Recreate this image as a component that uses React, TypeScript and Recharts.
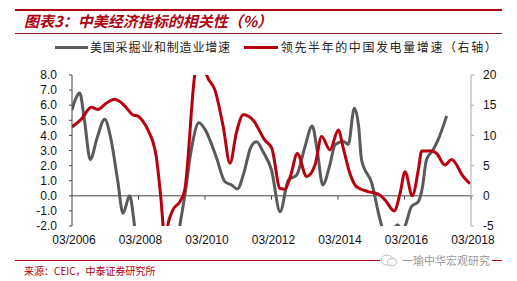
import React from 'react';
import { LineChart, Line, XAxis, YAxis, ReferenceLine } from 'recharts';

// months since 03/2006
const grayMonths = [0, 1.5, 2.8, 4.5, 6.6, 9, 11.8, 14, 16.5, 18.4, 20.8, 22.6, 26, 30, 34, 38.9, 40.7, 43, 45.8, 48, 52, 55.2, 57.6, 59.7, 62, 64.5, 66.6, 69, 72, 75.1, 78.1, 81.1, 84, 86.7, 88.5, 90.5, 93, 95, 98, 99.7, 101.9, 103.5, 104.5, 108.2, 111.2, 113, 115, 117.5, 119, 120.2, 122.5, 125, 126.5, 127.9, 130.3, 132.1, 135.2];
const grayValues = [5.7, 6.5, 6.8, 5.0, 2.4, 3.8, 5.07, 3.8, 1.0, -1.16, 0.0, -2.0, -7, -11, -9, -2.0, 0.0, 3.0, 4.84, 4.4, 2.6, 0.93, 0.72, 0.45, 1.5, 3.2, 3.58, 2.9, 1.71, -1.05, 1.05, 1.38, 3.2, 4.62, 3.0, 0.72, 2.0, 3.4, 3.6, 3.4, 5.8, 4.5, 2.37, 0.83, -1.6, -2.6, -2.5, -1.92, -2.3, -2.0, -0.72, -0.39, 0.6, 2.37, 3.03, 3.7, 5.28];

const redMonths = [0, 3.4, 7, 9.4, 12, 15.4, 17, 19, 22, 23.8, 25.5, 27.4, 30.4, 32, 33.5, 35, 36.5, 38.9, 40.7, 44.3, 46.5, 48.6, 51.6, 54.6, 57, 59.4, 61.8, 65.4, 69.6, 72.1, 75.1, 76.9, 79, 81.3, 84.7, 87.7, 90.1, 93.1, 96.1, 97.9, 100.3, 102.7, 106.9, 110.5, 113, 116.3, 118.4, 120.2, 122.8, 125, 126.2, 129.8, 131.6, 134.6, 137, 141.2, 143.6];
const redValues = [11.4, 12.7, 14.65, 14.3, 15.2, 16.0, 15.7, 14.9, 13.4, 13.2, 12.4, 10.9, 6.5, 0, -7, -4, -2.24, -1.0, 1.0, 20, 24, 20, 17.5, 11.4, 5.4, 10.6, 13.4, 12.5, 9.2, 7.9, 1.2, 1.1, 3.5, 7.0, 3.2, 5.1, 9.8, 7.6, 10.9, 7.9, 3.7, 1.5, 0.7, 0.3, -0.7, -2.5, 0.4, 4.0, 0.0, 4.3, 7.4, 7.4, 7.0, 5.1, 6.0, 3.2, 2.0];

const xTicks = [0, 24, 48, 72, 96, 120, 144];
const xTickLabels = ['03/2006', '03/2008', '03/2010', '03/2012', '03/2014', '03/2016', '03/2018'];
const leftTicks = [-2, -1, 0, 1, 2, 3, 4, 5, 6, 7, 8];
const rightTicks = [-5, 0, 5, 10, 15, 20];

const seriesNames = ['美国采掘业和制造业增速', '领先半年的中国发电量增速（右轴）'];
const title = '图表3：中美经济指标的相关性（%）';
const source = '来源：CEIC，中泰证券研究所';
const watermark = '一瑜中华宏观研究';

const GRAY = '#5a5a5a';
const RED = '#b8000f';

const allMonths = Array.from(new Set([...grayMonths, ...redMonths])).sort((a, b) => a - b);
const data = allMonths.map((m) => {
  const gi = grayMonths.indexOf(m);
  const ri = redMonths.indexOf(m);
  return {
    m,
    us: gi >= 0 ? grayValues[gi] : undefined,
    cn: ri >= 0 ? redValues[ri] : undefined,
  };
});

const font = 'Arial, "Liberation Sans", sans-serif';
const cjk = '"Noto Sans CJK SC", sans-serif';

export default function App() {
  return (
    <div style={{ position: 'absolute', left: 0, top: 0, width: 517, height: 281, background: '#fff', overflow: 'hidden' }}>
      <div style={{ position: 'absolute', left: 15, top: 9, width: 487, height: 2, background: '#b00010' }} />
      <div style={{ position: 'absolute', left: 24, top: 12, fontFamily: cjk, fontSize: 15, fontStyle: 'italic', fontWeight: 'bold', color: '#b00010', lineHeight: '18px', whiteSpace: 'nowrap' }}>{title}</div>
      <div style={{ position: 'absolute', left: 15, top: 33, width: 487, height: 1, background: '#8b1a1a' }} />

      <div style={{ position: 'absolute', left: 55, top: 39, display: 'flex', alignItems: 'center', fontFamily: cjk, fontSize: 12, color: '#222', whiteSpace: 'nowrap', lineHeight: '16px' }}>
        <span style={{ display: 'inline-block', width: 33, height: 3, background: GRAY, marginRight: 2 }} />
        <span style={{ letterSpacing: 0.8 }}>{seriesNames[0]}</span>
        <span style={{ display: 'inline-block', width: 34, height: 3, background: RED, marginLeft: 13, marginRight: 3 }} />
        <span style={{ letterSpacing: 1.6 }}>{seriesNames[1]}</span>
      </div>

      <div style={{ position: 'absolute', left: 0, top: 0 }}>
        <LineChart width={517} height={281} data={data} margin={{ top: 75, right: 16, bottom: 25, left: 22 }}>
          <XAxis
            dataKey="m"
            type="number"
            domain={[0, 144]}
            ticks={xTicks}
            tickFormatter={(v: number) => xTickLabels[xTicks.indexOf(v)] ?? ''}
            axisLine={false}
            tickLine={false}
            tickMargin={3}
            height={30}
            interval={0}
            tick={{ fontSize: 12, fill: '#111', fontFamily: font, dx: 2 }}
            allowDataOverflow
          />
          <YAxis
            yAxisId="left"
            domain={[-2, 8]}
            ticks={leftTicks}
            allowDataOverflow
            width={50}
            tickSize={3}
            tickMargin={12}
            interval={0}
            tickFormatter={(v: number) => v.toFixed(1)}
            axisLine={{ stroke: '#444' }}
            tickLine={{ stroke: '#444' }}
            tick={{ fontSize: 12, fill: '#111', fontFamily: font }}
          />
          <YAxis
            yAxisId="right"
            orientation="right"
            domain={[-5, 20]}
            ticks={rightTicks}
            allowDataOverflow
            width={30}
            tickSize={3}
            tickMargin={9}
            interval={0}
            axisLine={{ stroke: '#aaa' }}
            tickLine={{ stroke: '#aaa' }}
            tick={{ fontSize: 12, fill: '#111', fontFamily: font, textAnchor: 'start' }}
          />
          <ReferenceLine yAxisId="left" y={0} stroke="#444" strokeWidth={1} />
          {xTicks.slice(1).map((t) => (
            <ReferenceLine
              key={t}
              yAxisId="left"
              segment={[{ x: t, y: 0 }, { x: t, y: -0.25 }]}
              stroke="#444"
              strokeWidth={1}
            />
          ))}
          <Line
            yAxisId="left"
            dataKey="us"
            type="monotone"
            stroke={GRAY}
            strokeWidth={3}
            dot={false}
            connectNulls
            isAnimationActive={false}
          />
          <Line
            yAxisId="right"
            dataKey="cn"
            type="monotone"
            stroke={RED}
            strokeWidth={3}
            dot={false}
            connectNulls
            isAnimationActive={false}
          />
        </LineChart>
      </div>

      <div style={{ position: 'absolute', left: 15, top: 260, width: 487, height: 1, background: '#b00010' }} />
      <div style={{ position: 'absolute', left: 380, top: 253, width: 112, height: 14, background: '#fff', display: 'flex', alignItems: 'center' }}>
        <svg width="18" height="14" style={{ marginRight: 4 }}>
          <ellipse cx="7" cy="7" rx="6" ry="5" fill="none" stroke="#bbb" strokeWidth="1" />
          <ellipse cx="12" cy="9" rx="4.5" ry="3.5" fill="#fff" stroke="#bbb" strokeWidth="1" />
        </svg>
        <span style={{ fontFamily: cjk, fontSize: 11, color: '#999', whiteSpace: 'nowrap', lineHeight: '14px' }}>{watermark}</span>
      </div>
      <div style={{ position: 'absolute', left: 24, top: 264, fontFamily: cjk, fontSize: 10, color: '#b00010', whiteSpace: 'nowrap', lineHeight: '14px' }}>{source}</div>
    </div>
  );
}
